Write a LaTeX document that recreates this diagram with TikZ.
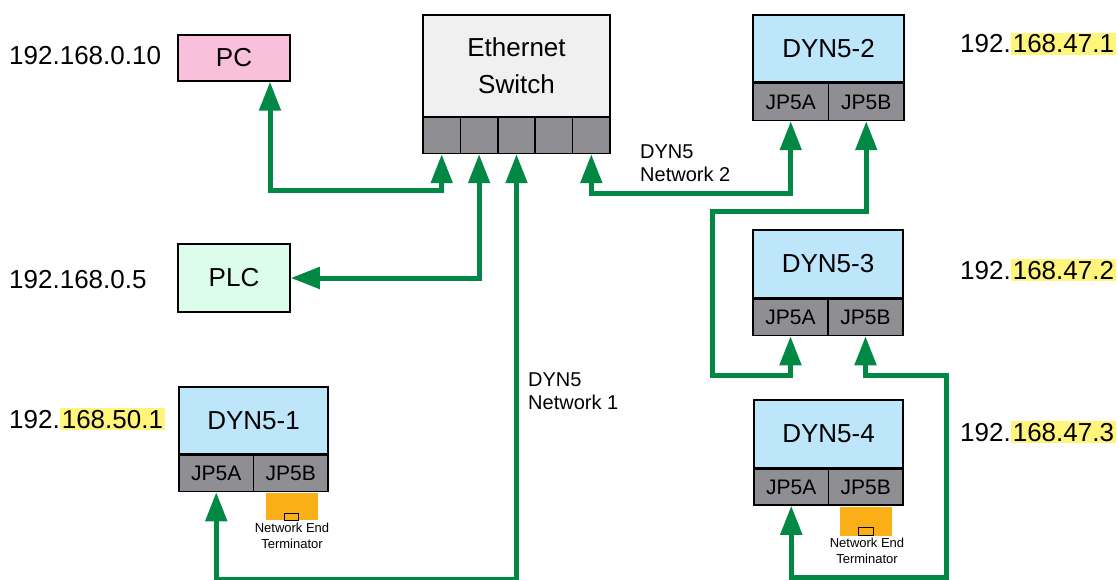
\documentclass[tikz,border=0pt]{standalone}
\usepackage{fontspec}
\setmainfont{Liberation Sans}
\usetikzlibrary{arrows.meta,calc}
\definecolor{lgreen}{RGB}{0,136,68}
\definecolor{dynblue}{RGB}{190,230,250}
\definecolor{swgray}{RGB}{240,240,240}
\definecolor{portgray}{RGB}{143,143,147}
\definecolor{pcpink}{RGB}{248,192,218}
\definecolor{plcmint}{RGB}{220,253,235}
\definecolor{termorange}{RGB}{251,175,23}
\definecolor{hlyellow}{RGB}{255,245,122}
\newcommand{\hlt}[1]{{\setlength{\fboxsep}{2pt}\colorbox{hlyellow}{#1}}}
\tikzset{
  box/.style={draw=black, line width=1.5pt, inner sep=0pt, font=\fontsize{26}{37}\selectfont, align=center},
  portbox/.style={draw=black, fill=portgray, line width=1.5pt, inner sep=0pt, font=\fontsize{21}{24}\selectfont},
  link/.style={draw=lgreen, line width=5pt, {Triangle[length=29pt,width=21pt]}-{Triangle[length=29pt,width=21pt]}},
  ip/.style={inner sep=0pt, font=\fontsize{26}{30}\selectfont, anchor=base west},
  netlabel/.style={inner sep=0pt, font=\fontsize{20}{23}\selectfont, align=left, anchor=west},
  termbox/.style={fill=termorange, inner sep=0pt, minimum width=52pt, minimum height=27pt, anchor=north},
  termplug/.style={draw=black, line width=0.8pt, fill=termorange, inner sep=0pt, minimum width=14pt, minimum height=7pt, anchor=south},
  termtext/.style={inner sep=0pt, font=\fontsize{13}{16}\selectfont, align=center}
}
\begin{document}
\begin{tikzpicture}[x=1pt,y=-1pt]
\useasboundingbox (0,0) rectangle (1118,580);

% Ethernet switch
\node[box, fill=swgray, minimum width=187pt, minimum height=102pt] (sw) at (516.5,66) {Ethernet\\Switch};
\foreach \i in {1,...,5}{
  \node[portbox, minimum width=37.4pt, minimum height=36.5pt] (p\i) at ({423+37.4*(\i-0.5)},135.2) {};
}

% PC and PLC
\node[box, fill=pcpink, minimum width=112pt, minimum height=46pt] (pc) at (234,58) {PC};
\node[box, fill=plcmint, minimum width=112pt, minimum height=68pt] (plc) at (234,278) {PLC};

% DYN5 units
\node[box, fill=dynblue, minimum width=149pt, minimum height=67pt] (d1) at (253.5,420.5) {DYN5-1};
\node[portbox, minimum width=74.5pt, minimum height=36pt, anchor=north west] (d1a) at (d1.south west) {JP5A};
\node[portbox, minimum width=74.5pt, minimum height=36pt, anchor=north east] (d1b) at (d1.south east) {JP5B};

\node[box, fill=dynblue, minimum width=151pt, minimum height=67pt] (d2) at (828.5,48.5) {DYN5-2};
\node[portbox, minimum width=75.5pt, minimum height=37pt, anchor=north west] (d2a) at (d2.south west) {JP5A};
\node[portbox, minimum width=75.5pt, minimum height=37pt, anchor=north east] (d2b) at (d2.south east) {JP5B};

\node[box, fill=dynblue, minimum width=150pt, minimum height=68pt] (d3) at (828,264) {DYN5-3};
\node[portbox, minimum width=75pt, minimum height=36pt, anchor=north west] (d3a) at (d3.south west) {JP5A};
\node[portbox, minimum width=75pt, minimum height=36pt, anchor=north east] (d3b) at (d3.south east) {JP5B};

\node[box, fill=dynblue, minimum width=149pt, minimum height=68pt] (d4) at (828.5,434) {DYN5-4};
\node[portbox, minimum width=74.5pt, minimum height=35.5pt, anchor=north west] (d4a) at (d4.south west) {JP5A};
\node[portbox, minimum width=74.5pt, minimum height=35.5pt, anchor=north east] (d4b) at (d4.south east) {JP5B};

% Terminators
\node[termbox] (t1) at ([xshift=1pt,yshift=-0.75pt]d1b.south) {};
\node[termplug] (t1p) at (t1.south) {};
\node[termtext] (t1t) at (292,536) {Network End\\Terminator};

\node[termbox, minimum height=29pt] (t4) at ([yshift=-0.75pt]d4b.south) {};
\node[termplug, minimum width=15pt, minimum height=8pt] (t4p) at (t4.south) {};
\node[termtext] (t4t) at (867,550.5) {Network End\\Terminator};

% IP labels
\node[ip] (ip1) at (9,65) {192.168.0.10};
\node[ip] (ip2) at (9,288) {192.168.0.5};
\node[ip] (ip3) at (9,428) {192.\hlt{168.50.1}};
\node[ip] (ip4) at (960,53) {192.\hlt{168.47.1}};
\node[ip] (ip5) at (960,279) {192.\hlt{168.47.2}};
\node[ip] (ip6) at (960,441) {192.\hlt{168.47.3}};

% Network labels
\node[netlabel] (n1) at (528,391) {DYN5\\Network 1};
\node[netlabel] (n2) at (640,163) {DYN5\\Network 2};

% Corner coordinates
\coordinate (c1) at (712,211);
\coordinate (c2) at (712,375);
\coordinate (c3) at (946,375);
\coordinate (c4) at (946,577);

% Connectors
\draw[link] ([xshift=36pt]pc.south) -- ++(0,109) -| (p1.south);
\draw[link] (p2.south) |- (plc.east);
\draw[link] (p3.south) -- ++(0,425) -| (d1a.south);
\draw[link] (p5.south) -- ++(0,39) -| (d2a.south);
\draw[link] (d2b.south) |- (c1) -- (c2) -| (d3a.south);
\draw[link] (d3b.south) |- (c3) -- (c4) -| (d4a.south);
\end{tikzpicture}
\end{document}
